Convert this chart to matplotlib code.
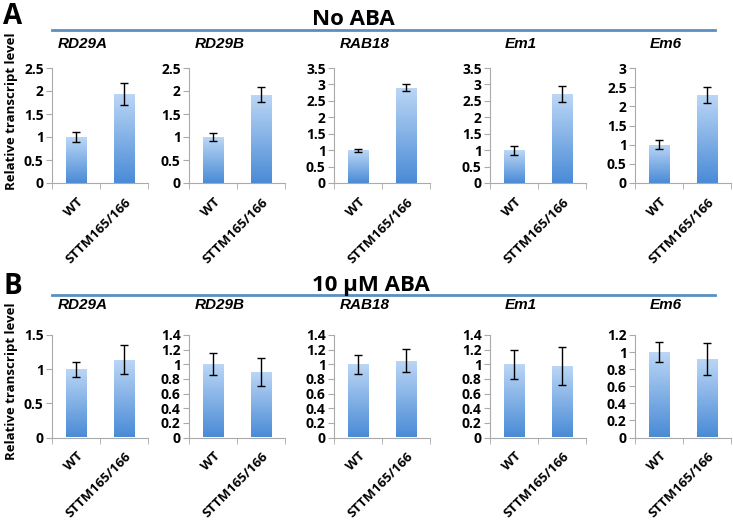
import numpy as np
import matplotlib.pyplot as plt
from matplotlib.colors import LinearSegmentedColormap
from matplotlib.lines import Line2D

plt.rcParams['font.family'] = ['Open Sans', 'DejaVu Sans']
plt.rcParams['font.weight'] = 'bold'

genes = ['RD29A', 'RD29B', 'RAB18', 'Em1', 'Em6']
genotypes = ['WT', 'STTM165/166']

# A: no ABA
no_aba_mean = [[1.0, 1.94], [1.0, 1.92], [1.0, 2.90], [1.0, 2.70], [1.0, 2.30]]
no_aba_err = [[0.10, 0.24], [0.09, 0.16], [0.05, 0.10], [0.14, 0.24], [0.12, 0.21]]
no_aba_ymax = [2.5, 2.5, 3.5, 3.5, 3.0]
no_aba_step = [0.5, 0.5, 0.5, 0.5, 0.5]

# B: 10 uM ABA
aba_mean = [[1.0, 1.14], [1.0, 0.89], [1.0, 1.05], [1.0, 0.98], [1.0, 0.92]]
aba_err = [[0.11, 0.21], [0.15, 0.19], [0.13, 0.16], [0.20, 0.26], [0.12, 0.19]]
aba_ymax = [1.5, 1.4, 1.4, 1.4, 1.2]
aba_step = [0.5, 0.2, 0.2, 0.2, 0.2]

W, H = 733, 526
fig = plt.figure(figsize=(W / 100, H / 100), dpi=100)

bar_cmap = LinearSegmentedColormap.from_list('bar', ['#4a8bd6', '#bcd7f6'])
grad = np.linspace(0, 1, 128).reshape(-1, 1)
lefts = [52, 189, 334, 490, 635]
ax_w = 96


def draw_panel(top, bottom, title_y, means, errs, ymaxs, steps):
    for i, gene in enumerate(genes):
        ax = fig.add_axes([lefts[i] / W, 1 - bottom / H, ax_w / W, (bottom - top) / H])
        x = np.arange(len(genotypes))
        bars = ax.bar(x, means[i], width=0.42, color='none', zorder=2)
        for b in bars:
            im = ax.imshow(grad, extent=[b.get_x(), b.get_x() + b.get_width(), 0, b.get_height()],
                           origin='lower', cmap=bar_cmap, aspect='auto', zorder=2)
            im.set_clip_path(b)
        ax.errorbar(x, means[i], yerr=errs[i], fmt='none', ecolor='black',
                    elinewidth=1, capsize=3, capthick=1, zorder=3)
        ax.set_xlim(-0.5, 1.5)
        ax.set_ylim(0, ymaxs[i])
        yt = [round(v, 2) for v in np.arange(0, ymaxs[i] + 1e-6, steps[i])]
        ax.set_yticks(yt)
        ax.set_yticklabels([f'{v:g}' for v in yt])
        ax.set_xticks(x)
        ax.set_xticklabels(genotypes, rotation=45, ha='right', rotation_mode='anchor')
        ax.set_xticks([-0.5, 0.5, 1.5], minor=True)
        ax.tick_params(axis='x', which='major', length=0, pad=9, labelsize=9.5)
        ax.tick_params(axis='x', which='minor', length=4, color='#aaaaaa')
        ax.tick_params(axis='y', length=4, color='#aaaaaa', labelsize=10, pad=2)
        for s in ['top', 'right']:
            ax.spines[s].set_visible(False)
        for s in ['left', 'bottom']:
            ax.spines[s].set_color('#aaaaaa')
        ax.set_title(gene, x=0.32, y=1 + (top - title_y) / (bottom - top), pad=0,
                     family='Liberation Sans', style='italic', fontweight='bold',
                     fontsize=11, va='center')


draw_panel(68, 183, 44, no_aba_mean, no_aba_err, no_aba_ymax, no_aba_step)
draw_panel(335, 437.5, 305, aba_mean, aba_err, aba_ymax, aba_step)

for ly, hy, ly_letter, label, head in [(30, 25, 24, 'A', 'No ABA'), (295, 291, 294, 'B', '10 μM ABA')]:
    fig.add_artist(Line2D([52 / W, 715 / W], [1 - ly / H] * 2, color='#5a8fc0', lw=2))
    fig.text(312 / W, 1 - hy / H, head, fontsize=16, ha='left', va='baseline')
    fig.text(3 / W, 1 - ly_letter / H, label, fontsize=20, ha='left', va='baseline')

fig.text(12 / W, 1 - 111 / H, 'Relative transcript level', rotation=90, fontsize=9.5,
         ha='center', va='center')
fig.text(12 / W, 1 - 381 / H, 'Relative transcript level', rotation=90, fontsize=9.5,
         ha='center', va='center')

fig.savefig('out.png', dpi=100)
